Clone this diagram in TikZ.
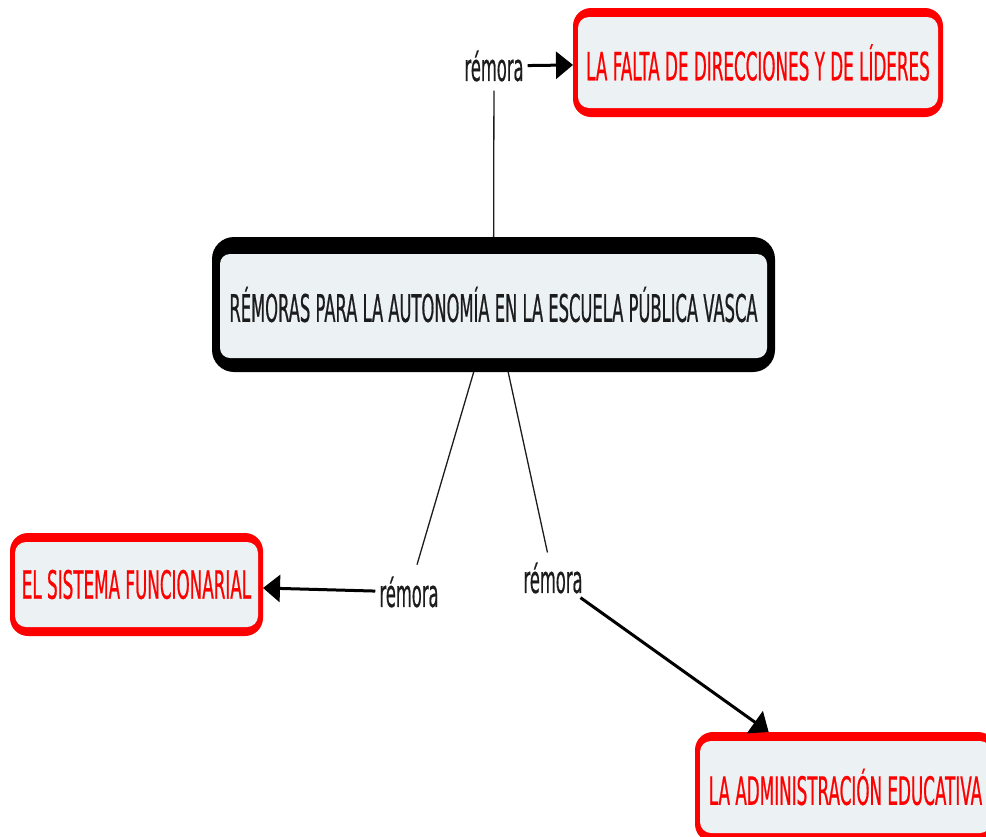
\documentclass[tikz,border=0pt]{standalone}
\usepackage{fontspec}
\newfontfamily\mapfont[FakeStretch=0.43,FakeBold=0.5]{DejaVu Sans}
\usetikzlibrary{arrows.meta,backgrounds}
\definecolor{boxfill}{RGB}{236,242,244}
\definecolor{conceptred}{RGB}{255,0,0}
\definecolor{inkgray}{RGB}{28,28,28}
\begin{document}
\begin{tikzpicture}[x=1pt,y=-1pt,
  every node/.style={font=\mapfont\fontsize{38}{44}\selectfont},
  conceptbox/.style={inner sep=0pt, outer sep=0pt, text=conceptred,
    font=\mapfont\fontsize{39}{45}\selectfont},
  hubbox/.style={inner sep=0pt, outer sep=0pt, text=inkgray},
  linklabel/.style={text=inkgray, inner sep=4pt},
  plainlink/.style={draw=inkgray, line width=1.3pt},
  arrowlink/.style={draw=black, line width=3pt, -{Triangle[length=17pt,width=27pt]}}
]
\path[use as bounding box] (0,0) rectangle (986,836);
\clip (0,0) rectangle (986,836);

% concepts
\node[hubbox, minimum width=563pt, minimum height=135pt] (main) at (493.5,304.5)
  {RÉMORAS PARA LA AUTONOMÍA EN LA ESCUELA PÚBLICA VASCA};
\node[conceptbox, minimum width=370pt, minimum height=109pt] (top) at (758,62.5)
  {LA FALTA DE DIRECCIONES Y DE LÍDERES};
\node[conceptbox, minimum width=253pt, minimum height=103pt] (left) at (136.5,584.5)
  {EL SISTEMA FUNCIONARIAL};
\node[conceptbox, minimum width=301pt, minimum height=110pt] (bottom) at (845.5,787)
  {LA ADMINISTRACIÓN EDUCATIVA};

% frames: heavier at top and bottom than at the sides
\begin{scope}[on background layer]
  \foreach \n/\col/\sx/\st/\sb/\ro/\ri in
      {top/conceptred/5/9/9/18/11, left/conceptred/5/9/9/18/11,
       bottom/conceptred/5/9/9/18/11, main/black/8/17/14/22/10} {
    \fill[\col, rounded corners=\ro pt] (\n.north west) rectangle (\n.south east);
    \fill[boxfill, rounded corners=\ri pt]
      ([shift={(\sx,\st)}]\n.north west) rectangle ([shift={(-\sx,-\sb)}]\n.south east);
  }
\end{scope}

% linking phrases
\node[linklabel] (l1) at (494,66) {rémora};
\node[linklabel] (l2) at (409,592) {rémora};
\node[linklabel] (l3) at (553,578) {rémora};

% connections
\draw[plainlink, shorten <=5pt] (l1) -- (main);
\draw[plainlink, shorten >=8pt] (main) -- (l2);
\draw[plainlink, shorten >=6pt] (main) -- (l3);
\draw[arrowlink] (l1) -- (top);
\draw[arrowlink] (l2) -- (left);
\draw[arrowlink] (l3) -- (bottom);
\end{tikzpicture}
\end{document}
